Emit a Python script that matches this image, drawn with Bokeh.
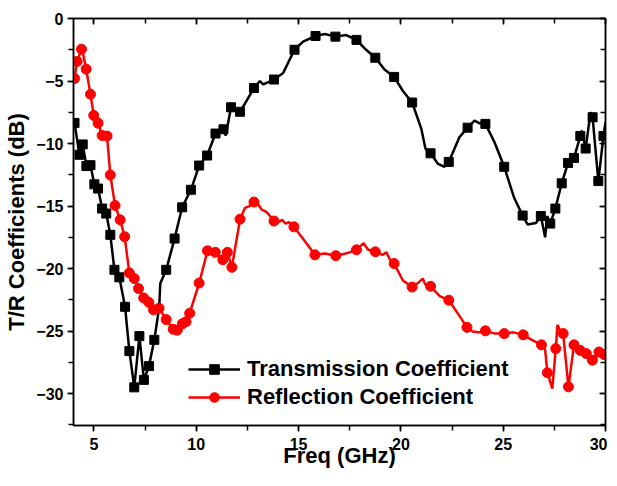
from bokeh.plotting import figure
from bokeh.models import Range1d, LinearAxis, SingleIntervalTicker, Legend, LegendItem
from bokeh.embed import file_html
from bokeh.resources import INLINE

# ---- Transmission coefficient (black) : line vertices ----
trans_freq = [4.0, 4.05, 4.29, 4.45, 4.63, 4.83, 5.02, 5.2, 5.4, 5.6, 5.8, 6.0, 6.24, 6.52,
              6.73, 6.97, 7.22, 7.44, 7.69, 7.95, 8.19, 8.24, 8.53, 8.94, 9.31, 9.74, 10.14,
              10.53, 10.94, 11.33, 11.44, 11.7, 12.14, 12.82, 13.11, 13.27, 13.8, 14.25, 14.8,
              15.22, 15.83, 16.28, 16.8, 17.33, 17.83, 18.3, 18.75, 19.2, 19.67, 20.1, 20.55,
              21.0, 21.2, 21.45, 21.8, 22.13, 22.34, 22.86, 23.26, 23.6, 23.83, 24.13, 24.57,
              25.05, 25.54, 25.95, 26.19, 26.6, 26.84, 27.05, 27.15, 27.3, 27.55, 27.86, 28.17,
              28.46, 28.77, 28.84, 29.03, 29.27, 29.37, 29.65, 29.9, 30.0]
trans_db = [-8.3, -8.35, -10.9, -10.07, -11.8, -11.73, -13.26, -13.6, -15.2, -15.6, -17.3, -20.1,
            -20.7, -23.06, -26.6, -29.5, -25.4, -28.9, -27.8, -25.7, -23.06, -21.2, -20.1, -17.6,
            -15.1, -13.7, -11.76, -10.96, -9.2, -8.86, -9.36, -7.1, -7.46, -5.56, -5.0, -5.27,
            -4.88, -4.35, -2.5, -1.85, -1.4, -1.24, -1.45, -1.32, -1.71, -2.5, -3.14, -4.08, -4.67,
            -5.8, -6.72, -8.83, -10.4, -10.78, -11.6, -11.86, -11.47, -9.5, -8.73, -8.17, -8.37,
            -8.43, -9.88, -11.86, -14.36, -15.76, -16.47, -16.35, -15.8, -17.5, -15.8, -16.4,
            -15.2, -13.18, -11.55, -11.15, -9.4, -8.96, -10.4, -7.5, -7.9, -13.0, -9.4, -8.3]

# ---- Transmission coefficient : marker positions ----
trans_mark_freq = [4.05, 4.29, 4.45, 4.63, 4.83, 5.02, 5.2, 5.4, 5.6, 5.8, 6.0, 6.24, 6.52, 6.73,
                   6.97, 7.22, 7.44, 7.69, 7.95, 8.53, 8.94, 9.31, 9.74, 10.14, 10.53, 10.94,
                   11.33, 11.7, 12.14, 12.82, 13.8, 14.8, 15.83, 16.8, 17.83, 18.75, 19.67,
                   20.55, 21.45, 22.34, 23.26, 24.13, 25.05, 25.95, 26.84, 27.3, 27.55, 27.86,
                   28.17, 28.46, 28.77, 29.03, 29.37, 29.65, 29.9]
trans_mark_db = [-8.35, -10.9, -10.07, -11.8, -11.73, -13.26, -13.6, -15.2, -15.6, -17.3, -20.1,
                 -20.7, -23.06, -26.6, -29.5, -25.4, -28.9, -27.8, -25.7, -20.1, -17.6, -15.1,
                 -13.7, -11.76, -10.96, -9.2, -8.86, -7.1, -7.46, -5.56, -4.88, -2.5, -1.4,
                 -1.45, -1.71, -3.14, -4.67, -6.72, -10.78, -11.47, -8.73, -8.43, -11.86,
                 -15.76, -15.8, -16.4, -15.2, -13.18, -11.55, -11.15, -9.4, -10.4, -7.9,
                 -13.0, -9.4]

# ---- Reflection coefficient (red) : line vertices ----
refl_freq = [4.0, 4.05, 4.18, 4.39, 4.42, 4.62, 4.83, 4.99, 5.2, 5.4, 5.64, 5.8, 6.03, 6.28, 6.5,
             6.73, 6.97, 7.18, 7.43, 7.68, 7.91, 8.18, 8.53, 8.87, 9.07, 9.32, 9.5, 9.68, 10.14,
             10.55, 10.93, 11.3, 11.52, 11.74, 12.14, 12.38, 12.6, 12.82, 13.0, 13.2, 13.36,
             13.5, 13.8, 14.0, 14.2, 14.35, 14.55, 14.77, 15.3, 15.8, 16.3, 16.82, 17.3, 17.83,
             18.18, 18.4, 18.75, 19.1, 19.3, 19.45, 19.67, 20.1, 20.55, 20.8, 21.07, 21.2,
             21.45, 21.9, 22.34, 22.83, 23.23, 23.5, 23.8, 24.13, 24.6, 25.05, 25.5, 25.98,
             26.4, 26.87, 27.05, 27.16, 27.4, 27.57, 27.65, 27.8, 27.93, 28.19, 28.46, 28.76,
             29.06, 29.36, 29.68, 29.93, 30.0]
refl_db = [-4.8, -4.8, -3.43, -2.45, -2.4, -4.05, -6.06, -7.75, -8.37, -9.36, -9.4, -12.52,
           -14.95, -16.1, -17.45, -20.35, -20.8, -21.6, -22.35, -22.7, -23.3, -23.17, -24.08,
           -24.85, -24.93, -24.42, -24.25, -23.57, -21.16, -18.58, -18.7, -19.3, -18.7, -19.9,
           -16.05, -15.15, -15.0, -14.68, -14.8, -15.3, -15.4, -15.6, -16.2, -16.3, -16.1,
           -16.4, -16.3, -16.66, -17.8, -18.9, -18.8, -18.97, -18.8, -18.5, -17.97, -18.5,
           -18.66, -18.9, -18.7, -19.24, -19.6, -20.95, -21.48, -21.2, -20.8, -21.3, -21.42,
           -22.2, -22.53, -23.7, -24.7, -25.03, -25.1, -24.98, -25.2, -25.2, -25.1, -25.3,
           -25.7, -26.1, -26.5, -28.33, -29.6, -26.4, -24.5, -25.0, -25.2, -29.46, -26.1,
           -26.54, -26.8, -27.33, -26.67, -26.88, -26.9]

# ---- Reflection coefficient : marker positions ----
refl_mark_freq = [4.05, 4.18, 4.39, 4.62, 4.83, 4.99, 5.2, 5.4, 5.64, 5.8, 6.03, 6.28, 6.5, 6.73,
                  6.97, 7.18, 7.43, 7.68, 7.91, 8.18, 8.53, 8.87, 9.07, 9.32, 9.5, 9.68, 10.14,
                  10.55, 10.93, 11.3, 11.52, 11.74, 12.14, 12.82, 13.8, 14.77, 15.8, 16.82,
                  17.83, 18.75, 19.67, 20.55, 21.45, 22.34, 23.23, 24.13, 25.05, 25.98, 26.87,
                  27.16, 27.57, 27.93, 28.19, 28.46, 28.76, 29.06, 29.36, 29.68, 29.93]
refl_mark_db = [-4.8, -3.43, -2.45, -4.05, -6.06, -7.75, -8.37, -9.36, -9.4, -12.52, -14.95,
                -16.1, -17.45, -20.35, -20.8, -21.6, -22.35, -22.7, -23.3, -23.17, -24.08,
                -24.85, -24.93, -24.42, -24.25, -23.57, -21.16, -18.58, -18.7, -19.3, -18.7,
                -19.9, -16.05, -14.68, -16.2, -16.66, -18.9, -18.97, -18.5, -18.66, -19.6,
                -21.48, -21.42, -22.53, -24.7, -24.98, -25.2, -25.3, -26.1, -28.33, -26.4,
                -25.2, -29.46, -26.1, -26.54, -26.8, -27.33, -26.67, -26.88]

series_labels = ["Transmission Coefficient", "Reflection Coefficient"]
x_title = "Freq (GHz)"
y_title = "T/R Coefficients (dB)"

FONT = "Liberation Sans"

p = figure(width=607, height=470, output_backend="svg", toolbar_location=None,
           x_range=Range1d(4, 30), y_range=Range1d(-32.55, 0),
           min_border_left=73, min_border_right=2, min_border_top=18, min_border_bottom=44)
p.grid.visible = False
p.outline_line_color = "black"
p.outline_line_width = 1.5

for ax in (p.xaxis[0], p.yaxis[0]):
    ax.ticker = SingleIntervalTicker(interval=5, num_minor_ticks=2)
    ax.major_tick_in = 0
    ax.major_tick_out = 6
    ax.minor_tick_in = 0
    ax.minor_tick_out = 5
    ax.axis_line_width = 1.5
    ax.major_tick_line_width = 1.5
    ax.minor_tick_line_width = 1.5
    ax.major_label_text_font = FONT
    ax.major_label_text_font_style = "bold"
    ax.major_label_text_font_size = "16px"
    ax.major_label_text_color = "black"
    ax.axis_label_text_font = FONT
    ax.axis_label_text_font_style = "bold"
    ax.axis_label_text_font_size = "22px"
    ax.axis_label_text_color = "black"

p.xaxis.axis_label = x_title
p.yaxis.axis_label = y_title
p.xaxis.major_label_standoff = 6
p.xaxis.axis_label_standoff = -10
p.yaxis.major_label_standoff = 4
p.yaxis.axis_label_standoff = 4

# mirrored axes: inward ticks, labels not drawn
top = LinearAxis(ticker=SingleIntervalTicker(interval=5, num_minor_ticks=2))
right = LinearAxis(ticker=SingleIntervalTicker(interval=5, num_minor_ticks=2))
for ax in (top, right):
    ax.major_tick_in = 6
    ax.major_tick_out = 0
    ax.minor_tick_in = 5
    ax.minor_tick_out = 0
    ax.axis_line_width = 1.5
    ax.major_tick_line_width = 1.5
    ax.minor_tick_line_width = 1.5
    ax.major_label_text_color = None
    ax.major_label_text_font_size = "1px"
    ax.major_label_standoff = 0
p.add_layout(top, "above")
p.add_layout(right, "right")

t_line = p.line(trans_freq, trans_db, line_color="black", line_width=2.5)
t_mark = p.scatter(trans_mark_freq, trans_mark_db, marker="square", size=9,
                   fill_color="black", line_color="black")
r_line = p.line(refl_freq, refl_db, line_color="red", line_width=2.5)
r_mark = p.scatter(refl_mark_freq, refl_mark_db, marker="circle", size=10,
                   fill_color="red", line_color="red")

legend = Legend(items=[LegendItem(label=series_labels[0], renderers=[t_line, t_mark]),
                       LegendItem(label=series_labels[1], renderers=[r_line, r_mark])],
                location=(115, 15), orientation="vertical")
legend.background_fill_alpha = 0
legend.border_line_alpha = 0
legend.padding = 0
legend.margin = 0
legend.spacing = 2
legend.glyph_width = 52
legend.glyph_height = 24
legend.label_height = 24
legend.label_standoff = 7
legend.label_text_font = FONT
legend.label_text_font_style = "bold"
legend.label_text_font_size = "22px"
legend.label_text_color = "black"
legend.label_text_baseline = "middle"
p.add_layout(legend, "center")

open("out.html", "w").write(file_html(p, INLINE))
